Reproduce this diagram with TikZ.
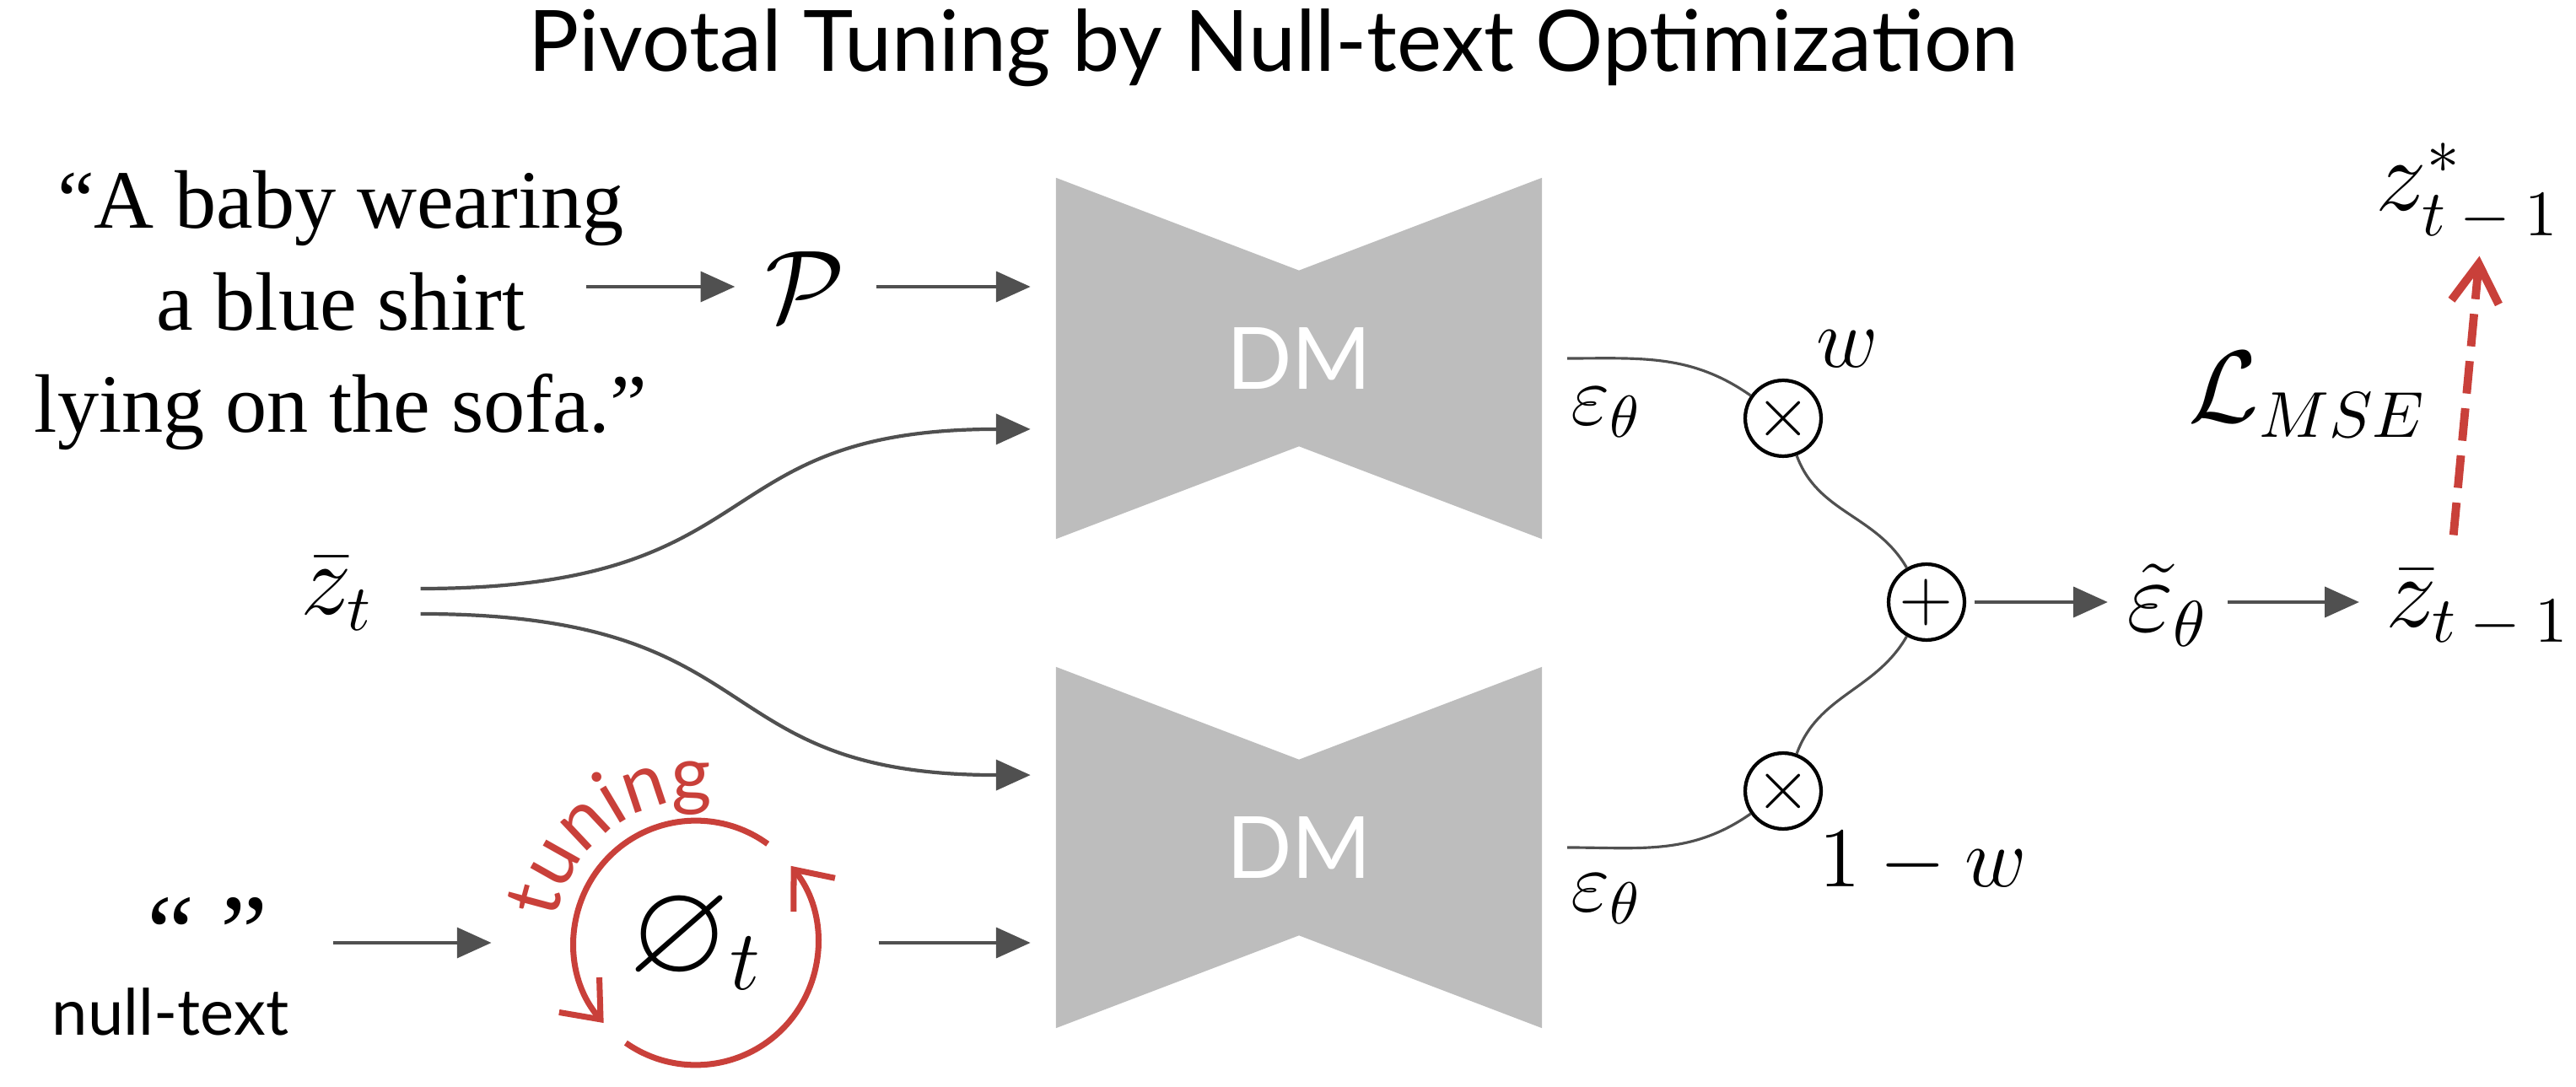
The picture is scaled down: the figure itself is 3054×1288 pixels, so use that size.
\documentclass[tikz,border=0pt]{standalone}
\usepackage{amssymb}
\usepackage{fontspec}
\newfontfamily\promptfont{Liberation Serif}
\newfontfamily\labelfont{Lato}
\newcommand\tuningfont{\labelfont\fontsize{13}{15}\selectfont}
\usetikzlibrary{arrows.meta, backgrounds, decorations.text}
\definecolor{arrowgray}{RGB}{80,80,80}
\definecolor{dmgray}{RGB}{189,189,189}
\definecolor{tunered}{RGB}{201,64,58}

\begin{document}
\begin{tikzpicture}[x=0.005cm, y=0.005cm,
  flow/.style={draw=arrowgray, line width=0.6pt, -{Triangle[length=5.8pt, width=5.1pt]}},
  wire/.style={draw=arrowgray, line width=0.45pt},
  sym/.style={inner sep=0, font=\fontsize{16}{19}\selectfont},
  symsmall/.style={inner sep=0, font=\fontsize{14.5}{17}\selectfont},
  titletext/.style={font=\labelfont\fontsize{14.3}{17}\selectfont},
  prompttext/.style={font=\promptfont\fontsize{14}{17.2}\selectfont},
  sanstext/.style={font=\labelfont\fontsize{10.8}{13}\selectfont},
  dm/.style={minimum width=2.87cm, minimum height=2.13cm, inner sep=0, text=white, font=\labelfont\fontsize{14.5}{17}\selectfont},
  prod/.style={circle, draw, line width=0.6pt, minimum size=0.45cm, inner sep=0, font=\fontsize{12.5}{15}\selectfont},
  loopline/.style={draw=tunered, line width=1pt, -{Straight Barb[length=5.5pt, width=9pt]}},
  loss/.style={draw=tunered, line width=1.4pt, dash pattern=on 5.5pt off 2.5pt, -{Straight Barb[length=6.5pt, width=8pt]}}]
  \useasboundingbox (0,0) rectangle (3054,1288);
  % ---- title ----
  \node[titletext, anchor=base] (title) at (1510,1203) {Pivotal Tuning by Null-text Optimization};
  % ---- conditioning inputs ----
  \node[prompttext, align=center, anchor=north, inner sep=0] (prompt) at (404,1087) {“A baby wearing\\ a blue shirt\\ lying on the sofa.”};
  \node[sym, inner sep=5pt] (P) at (955,948) {$\mathcal{P}$};
  \node[sym, inner xsep=0.27cm] (zt) at (400,584) {$\bar{z}_t$};
  \node[font=\promptfont\fontsize{18}{20}\selectfont, inner sep=0] (nullq) at (246,182) {“ ”};
  \node[sanstext, inner sep=0] (nulltxt) at (202,88) {null-text};
  \node[sym, font=\fontsize{22}{24}\selectfont, circle, minimum size=1.45cm] (loop) at (825,170) {$\varnothing_t$};
  % ---- the two diffusion models ----
  \node[dm] (dmA) at (1540,863) {DM};
  \node[dm] (dmB) at (1540,283) {DM};
  \begin{scope}[on background layer]
    \foreach \n in {dmA,dmB}
      \fill[dmgray] (\n.north west) -- ([yshift=-0.55cm]\n.north) -- (\n.north east)
        -- (\n.south east) -- ([yshift=0.55cm]\n.south) -- (\n.south west) -- cycle;
  \end{scope}
  % ---- guidance and update ----
  \node[prod] (mulA) at (2114,792) {$\times$};
  \node[prod] (mulB) at (2114,350) {$\times$};
  \node[prod] (add) at (2284,574) {$+$};
  \node[symsmall] (epsA) at (1905,799) {$\varepsilon_\theta$};
  \node[symsmall] (epsB) at (1905,222) {$\varepsilon_\theta$};
  \node[symsmall] (w) at (2190,874) {$w$};
  \node[symsmall] (onew) at (2280,265) {$1-w$};
  \node[sym] (epst) at (2570,570) {$\tilde{\varepsilon}_\theta$};
  \node[sym] (zprev) at (2938,566) {$\bar{z}_{t\:-\:1}$};
  \node[sym] (zstar) at (2926,1060) {$z^{*}_{t\:-\:1}$};
  \node[sym] (loss) at (2736,820) {$\mathcal{L}_{MSE}$};
  % ---- connectors ----
  \coordinate (ptail) at (695,948);
  \draw[flow] (ptail) -- (P);
  \draw[flow, shorten >=4.3pt] (P) -- (P -| dmA.west);
  \draw[flow, shorten >=4.3pt] ([yshift=0.03cm]zt.east) to[out=0, in=180, looseness=1.4] ([yshift=-0.42cm]dmA.west);
  \draw[flow, shorten >=4.3pt] ([yshift=-0.12cm]zt.east) to[out=0, in=180, looseness=1.4] ([yshift=0.43cm]dmB.west);
  \draw[flow, shorten <=10.8pt, shorten >=13.7pt] (nullq.east |- loop) -- (loop);
  \draw[flow, shorten <=10pt, shorten >=4.3pt] (loop) -- (loop -| dmB.west);
  \draw[wire] ([xshift=0.15cm]dmA.east) to[out=0, in=145] (mulA);
  \draw[wire] ([xshift=0.15cm]dmB.east) to[out=0, in=-145] (mulB);
  \draw[wire] (mulA) to[out=-70, in=120] (add);
  \draw[wire] (mulB) to[out=70, in=-120] (add);
  \draw[flow, shorten <=1.4pt, shorten >=3pt] (add) -- (add -| epst.west);
  \draw[flow, shorten <=3pt, shorten >=4.3pt] (epst.east |- add) -- (zprev.west |- add);
  \draw[loss, shorten <=5.7pt, shorten >=2.3pt] ([xshift=-0.165cm]zprev.north) -- ([xshift=0.075cm]zstar.south);
  % ---- tuning loop ----
  \draw[loopline] (loop.center) ++(54:0.725cm) arc[start angle=54, end angle=221, radius=0.725cm];
  \draw[loopline] (loop.center) ++(235:0.725cm) arc[start angle=235, end angle=399, radius=0.725cm];
  \path[decorate, decoration={text along path, text align=center, text color=tunered, text={|\tuningfont|tuning}}]
    (loop.center) ++(172:0.84cm) arc[start angle=172, end angle=82, radius=0.84cm];
\end{tikzpicture}
\end{document}
